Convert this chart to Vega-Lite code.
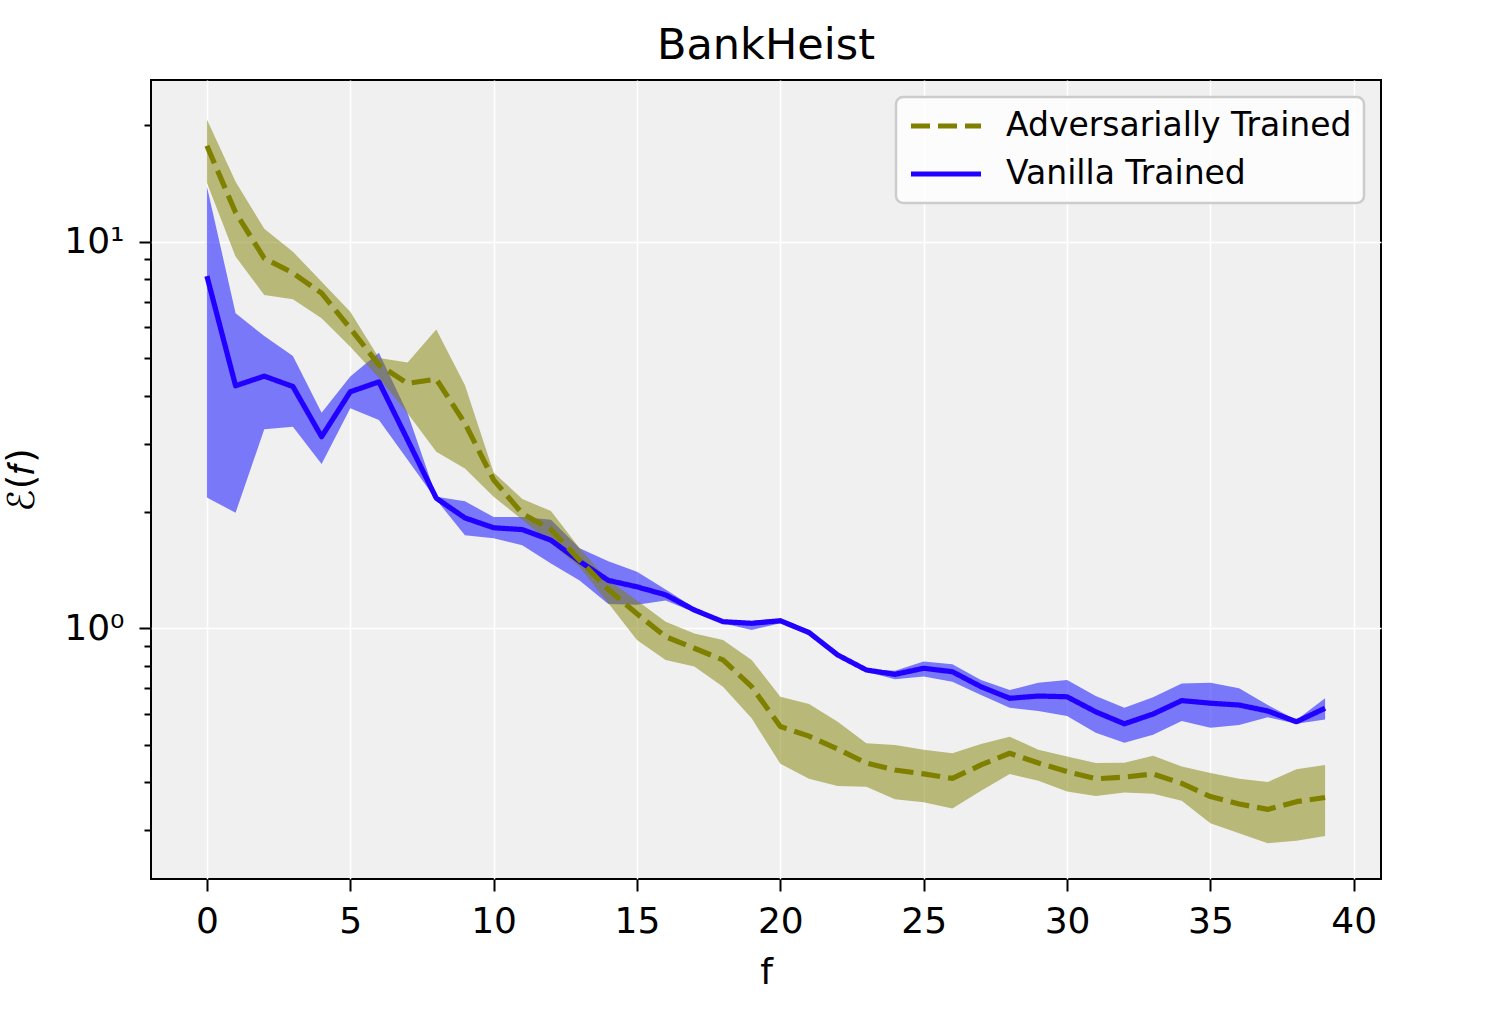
{
  "$schema": "https://vega.github.io/schema/vega-lite/v6.json",
  "width": 1230,
  "height": 799,
  "autosize": {"type": "none"},
  "padding": {"left": 151, "top": 80, "right": 112, "bottom": 134},
  "background": "white",
  "title": {"text": "BankHeist", "fontSize": 43, "fontWeight": "normal", "font": "DejaVu Sans", "color": "black", "offset": 12},
  "config": {
    "font": "DejaVu Sans",
    "view": {"fill": "#f0f0f0", "stroke": "black", "strokeWidth": 2}
  },
  "datasets": {
    "runs": [
      {"f": 0, "series": "Adversarially Trained", "mean": 17.7, "lo": 14.2, "hi": 20.7},
      {"f": 1, "series": "Adversarially Trained", "mean": 11.9, "lo": 9.15, "hi": 14.3},
      {"f": 2, "series": "Adversarially Trained", "mean": 9.06, "lo": 7.28, "hi": 10.8},
      {"f": 3, "series": "Adversarially Trained", "mean": 8.3, "lo": 7.1, "hi": 9.42},
      {"f": 4, "series": "Adversarially Trained", "mean": 7.36, "lo": 6.34, "hi": 7.88},
      {"f": 5, "series": "Adversarially Trained", "mean": 5.97, "lo": 5.35, "hi": 6.59},
      {"f": 6, "series": "Adversarially Trained", "mean": 4.8, "lo": 4.45, "hi": 5.0},
      {"f": 7, "series": "Adversarially Trained", "mean": 4.3, "lo": 3.6, "hi": 4.87},
      {"f": 8, "series": "Adversarially Trained", "mean": 4.41, "lo": 2.86, "hi": 5.93},
      {"f": 9, "series": "Adversarially Trained", "mean": 3.39, "lo": 2.59, "hi": 4.25},
      {"f": 10, "series": "Adversarially Trained", "mean": 2.42, "lo": 2.19, "hi": 2.53},
      {"f": 11, "series": "Adversarially Trained", "mean": 1.98, "lo": 1.91, "hi": 2.16},
      {"f": 12, "series": "Adversarially Trained", "mean": 1.8, "lo": 1.66, "hi": 2.01},
      {"f": 13, "series": "Adversarially Trained", "mean": 1.5, "lo": 1.44, "hi": 1.61},
      {"f": 14, "series": "Adversarially Trained", "mean": 1.26, "lo": 1.16, "hi": 1.33},
      {"f": 15, "series": "Adversarially Trained", "mean": 1.09, "lo": 0.933, "hi": 1.18},
      {"f": 16, "series": "Adversarially Trained", "mean": 0.951, "lo": 0.828, "hi": 1.04},
      {"f": 17, "series": "Adversarially Trained", "mean": 0.888, "lo": 0.796, "hi": 0.97},
      {"f": 18, "series": "Adversarially Trained", "mean": 0.828, "lo": 0.706, "hi": 0.933},
      {"f": 19, "series": "Adversarially Trained", "mean": 0.706, "lo": 0.585, "hi": 0.828},
      {"f": 20, "series": "Adversarially Trained", "mean": 0.557, "lo": 0.446, "hi": 0.665},
      {"f": 21, "series": "Adversarially Trained", "mean": 0.526, "lo": 0.408, "hi": 0.637},
      {"f": 22, "series": "Adversarially Trained", "mean": 0.487, "lo": 0.391, "hi": 0.573},
      {"f": 23, "series": "Adversarially Trained", "mean": 0.448, "lo": 0.389, "hi": 0.504},
      {"f": 24, "series": "Adversarially Trained", "mean": 0.43, "lo": 0.361, "hi": 0.499},
      {"f": 25, "series": "Adversarially Trained", "mean": 0.42, "lo": 0.355, "hi": 0.485},
      {"f": 26, "series": "Adversarially Trained", "mean": 0.409, "lo": 0.342, "hi": 0.475},
      {"f": 27, "series": "Adversarially Trained", "mean": 0.443, "lo": 0.38, "hi": 0.502},
      {"f": 28, "series": "Adversarially Trained", "mean": 0.475, "lo": 0.42, "hi": 0.524},
      {"f": 29, "series": "Adversarially Trained", "mean": 0.448, "lo": 0.403, "hi": 0.485},
      {"f": 30, "series": "Adversarially Trained", "mean": 0.426, "lo": 0.378, "hi": 0.466},
      {"f": 31, "series": "Adversarially Trained", "mean": 0.408, "lo": 0.368, "hi": 0.448},
      {"f": 32, "series": "Adversarially Trained", "mean": 0.412, "lo": 0.376, "hi": 0.449},
      {"f": 33, "series": "Adversarially Trained", "mean": 0.42, "lo": 0.373, "hi": 0.468},
      {"f": 34, "series": "Adversarially Trained", "mean": 0.397, "lo": 0.358, "hi": 0.439},
      {"f": 35, "series": "Adversarially Trained", "mean": 0.367, "lo": 0.313, "hi": 0.422},
      {"f": 36, "series": "Adversarially Trained", "mean": 0.351, "lo": 0.295, "hi": 0.408},
      {"f": 37, "series": "Adversarially Trained", "mean": 0.34, "lo": 0.278, "hi": 0.4},
      {"f": 38, "series": "Adversarially Trained", "mean": 0.356, "lo": 0.282, "hi": 0.432},
      {"f": 39, "series": "Adversarially Trained", "mean": 0.365, "lo": 0.29, "hi": 0.443},
      {"f": 0, "series": "Vanilla Trained", "mean": 8.15, "lo": 2.18, "hi": 13.9},
      {"f": 1, "series": "Vanilla Trained", "mean": 4.24, "lo": 1.99, "hi": 6.53},
      {"f": 2, "series": "Vanilla Trained", "mean": 4.49, "lo": 3.27, "hi": 5.7},
      {"f": 3, "series": "Vanilla Trained", "mean": 4.22, "lo": 3.32, "hi": 5.06},
      {"f": 4, "series": "Vanilla Trained", "mean": 3.13, "lo": 2.66, "hi": 3.61},
      {"f": 5, "series": "Vanilla Trained", "mean": 4.09, "lo": 3.71, "hi": 4.48},
      {"f": 6, "series": "Vanilla Trained", "mean": 4.34, "lo": 3.46, "hi": 5.16},
      {"f": 7, "series": "Vanilla Trained", "mean": 3.07, "lo": 2.73, "hi": 3.6},
      {"f": 8, "series": "Vanilla Trained", "mean": 2.17, "lo": 2.15, "hi": 2.19},
      {"f": 9, "series": "Vanilla Trained", "mean": 1.93, "lo": 1.74, "hi": 2.13},
      {"f": 10, "series": "Vanilla Trained", "mean": 1.82, "lo": 1.71, "hi": 1.94},
      {"f": 11, "series": "Vanilla Trained", "mean": 1.8, "lo": 1.64, "hi": 1.94},
      {"f": 12, "series": "Vanilla Trained", "mean": 1.69, "lo": 1.47, "hi": 1.91},
      {"f": 13, "series": "Vanilla Trained", "mean": 1.49, "lo": 1.33, "hi": 1.61},
      {"f": 14, "series": "Vanilla Trained", "mean": 1.33, "lo": 1.156, "hi": 1.49},
      {"f": 15, "series": "Vanilla Trained", "mean": 1.28, "lo": 1.15, "hi": 1.4},
      {"f": 16, "series": "Vanilla Trained", "mean": 1.22, "lo": 1.18, "hi": 1.26},
      {"f": 17, "series": "Vanilla Trained", "mean": 1.115, "lo": 1.1, "hi": 1.13},
      {"f": 18, "series": "Vanilla Trained", "mean": 1.04, "lo": 1.03, "hi": 1.05},
      {"f": 19, "series": "Vanilla Trained", "mean": 1.03, "lo": 0.99, "hi": 1.045},
      {"f": 20, "series": "Vanilla Trained", "mean": 1.046, "lo": 1.03, "hi": 1.06},
      {"f": 21, "series": "Vanilla Trained", "mean": 0.975, "lo": 0.96, "hi": 0.99},
      {"f": 22, "series": "Vanilla Trained", "mean": 0.853, "lo": 0.845, "hi": 0.865},
      {"f": 23, "series": "Vanilla Trained", "mean": 0.78, "lo": 0.772, "hi": 0.785},
      {"f": 24, "series": "Vanilla Trained", "mean": 0.76, "lo": 0.738, "hi": 0.777},
      {"f": 25, "series": "Vanilla Trained", "mean": 0.788, "lo": 0.75, "hi": 0.82},
      {"f": 26, "series": "Vanilla Trained", "mean": 0.772, "lo": 0.727, "hi": 0.807},
      {"f": 27, "series": "Vanilla Trained", "mean": 0.706, "lo": 0.672, "hi": 0.735},
      {"f": 28, "series": "Vanilla Trained", "mean": 0.659, "lo": 0.623, "hi": 0.692},
      {"f": 29, "series": "Vanilla Trained", "mean": 0.668, "lo": 0.611, "hi": 0.723},
      {"f": 30, "series": "Vanilla Trained", "mean": 0.665, "lo": 0.593, "hi": 0.735},
      {"f": 31, "series": "Vanilla Trained", "mean": 0.608, "lo": 0.537, "hi": 0.668},
      {"f": 32, "series": "Vanilla Trained", "mean": 0.566, "lo": 0.506, "hi": 0.623},
      {"f": 33, "series": "Vanilla Trained", "mean": 0.6, "lo": 0.53, "hi": 0.663},
      {"f": 34, "series": "Vanilla Trained", "mean": 0.65, "lo": 0.576, "hi": 0.72},
      {"f": 35, "series": "Vanilla Trained", "mean": 0.64, "lo": 0.553, "hi": 0.723},
      {"f": 36, "series": "Vanilla Trained", "mean": 0.633, "lo": 0.562, "hi": 0.7},
      {"f": 37, "series": "Vanilla Trained", "mean": 0.611, "lo": 0.589, "hi": 0.633},
      {"f": 38, "series": "Vanilla Trained", "mean": 0.573, "lo": 0.566, "hi": 0.579},
      {"f": 39, "series": "Vanilla Trained", "mean": 0.621, "lo": 0.581, "hi": 0.659}
    ]
  },
  "data": {"name": "runs"},
  "layer": [
    {
      "transform": [{"filter": "datum.series == 'Vanilla Trained'"}],
      "mark": {"type": "area", "color": "#0000ff", "opacity": 0.5},
      "encoding": {
        "x": {"field": "f", "type": "quantitative", "scale": {"domain": [-1.95, 40.95], "nice": false, "zero": false},
          "axis": {"values": [0, 5, 10, 15, 20, 25, 30, 35, 40], "title": "f", "labelFontSize": 36, "titleFontSize": 36, "titleFontWeight": "normal", "labelColor": "black", "titleColor": "black", "tickSize": 12, "tickWidth": 2, "tickColor": "black", "domain": false, "grid": true, "gridColor": "white", "gridWidth": 1.5, "labelPadding": 13, "titlePadding": 16, "labelFlush": false}},
        "y": {"field": "lo", "type": "quantitative", "title": "ℰ(𝑓)", "scale": {"type": "log", "domain": [0.2246, 26.2], "nice": false},
          "axis": {"values": [0.3, 0.4, 0.5, 0.6, 0.7, 0.8, 0.9, 1, 2, 3, 4, 5, 6, 7, 8, 9, 10, 20],
            "labelExpr": "datum.value == 1 ? '10⁰' : (datum.value == 10 ? '10¹' : '')",
            "labelOverlap": false, "labelFontSize": 36, "titleFontSize": 37, "titleFontWeight": "normal", "labelColor": "black", "titleColor": "black",
            "tickSize": {"condition": {"test": "datum.value == 1 || datum.value == 10", "value": 12}, "value": 7},
            "tickWidth": 2, "tickColor": "black", "domain": false, "grid": true, "gridColor": "white", "gridWidth": 1.5,
            "gridOpacity": {"condition": {"test": "datum.value == 1 || datum.value == 10", "value": 1}, "value": 0},
            "labelPadding": 15, "titlePadding": 22}},
        "y2": {"field": "hi"}
      }
    },
    {
      "transform": [{"filter": "datum.series == 'Adversarially Trained'"}],
      "mark": {"type": "area", "color": "#808000", "opacity": 0.5},
      "encoding": {
        "x": {"field": "f", "type": "quantitative"},
        "y": {"field": "lo", "type": "quantitative", "title": "ℰ(𝑓)"},
        "y2": {"field": "hi"}
      }
    },
    {
      "transform": [{"filter": "datum.series == 'Vanilla Trained'"}],
      "mark": {"type": "line", "strokeWidth": 5.2, "strokeJoin": "round"},
      "encoding": {
        "x": {"field": "f", "type": "quantitative"},
        "y": {"field": "mean", "type": "quantitative", "title": "ℰ(𝑓)"},
        "color": {"field": "series", "type": "nominal",
          "scale": {"domain": ["Adversarially Trained", "Vanilla Trained"], "range": ["#808000", "#2200ff"]},
          "legend": {"title": null, "orient": "top-right", "offset": 17, "padding": 12, "fillColor": "rgba(255,255,255,0.8)", "strokeColor": "#cccccc", "cornerRadius": 7, "labelFontSize": 33, "labelColor": "black", "labelLimit": 0, "symbolType": "stroke", "symbolSize": 4900, "symbolStrokeWidth": 5.2, "clipHeight": 34, "rowPadding": 14, "labelOffset": 22,
            "encode": {"legend": {"update": {"strokeWidth": {"value": 2.5}}}}}},
        "strokeDash": {"field": "series", "type": "nominal",
          "scale": {"domain": ["Adversarially Trained", "Vanilla Trained"], "range": [[19, 8], [1, 0]]}}
      }
    },
    {
      "transform": [{"filter": "datum.series == 'Adversarially Trained'"}],
      "mark": {"type": "line", "strokeWidth": 5.2, "strokeJoin": "round"},
      "encoding": {
        "x": {"field": "f", "type": "quantitative"},
        "y": {"field": "mean", "type": "quantitative", "title": "ℰ(𝑓)"},
        "color": {"field": "series", "type": "nominal"},
        "strokeDash": {"field": "series", "type": "nominal"}
      }
    }
  ]
}
